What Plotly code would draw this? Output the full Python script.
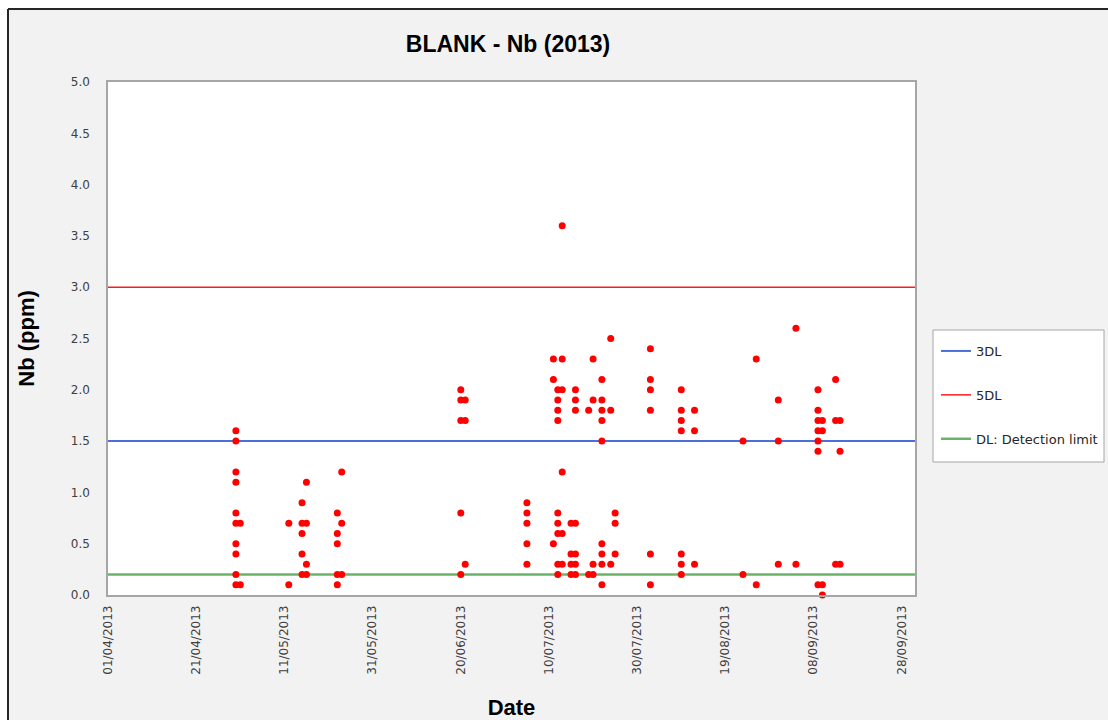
import pandas as pd
import plotly.graph_objects as go

# Nb measured in blanks, grouped by sampling day (ppm)
sample_days = [
    "2013-04-30", "2013-05-01", "2013-05-12", "2013-05-15", "2013-05-16",
    "2013-05-23", "2013-05-24", "2013-06-20", "2013-06-21", "2013-07-05",
    "2013-07-11", "2013-07-12", "2013-07-13", "2013-07-15", "2013-07-16",
    "2013-07-19", "2013-07-20", "2013-07-22", "2013-07-24", "2013-07-25",
    "2013-08-02", "2013-08-09", "2013-08-12", "2013-08-23", "2013-08-26",
    "2013-08-31", "2013-09-04", "2013-09-09", "2013-09-10", "2013-09-13",
    "2013-09-14",
]
nb_by_day = [
    [1.6, 1.5, 1.2, 1.1, 0.8, 0.7, 0.5, 0.4, 0.2, 0.1],
    [0.7, 0.1],
    [0.7, 0.1],
    [0.9, 0.7, 0.6, 0.4, 0.2],
    [1.1, 0.7, 0.3, 0.2],
    [0.8, 0.6, 0.5, 0.2, 0.1],
    [1.2, 0.7, 0.2],
    [2.0, 1.9, 1.7, 0.8, 0.2],
    [1.9, 1.7, 0.3],
    [0.9, 0.8, 0.7, 0.5, 0.3],
    [2.3, 2.1, 0.5],
    [2.0, 1.9, 1.8, 1.7, 0.8, 0.7, 0.6, 0.3, 0.2],
    [3.6, 2.3, 2.0, 1.2, 0.6, 0.3],
    [0.7, 0.4, 0.3, 0.2],
    [2.0, 1.9, 1.8, 0.7, 0.4, 0.3, 0.2],
    [1.8, 0.2],
    [2.3, 1.9, 0.3, 0.2],
    [2.1, 1.9, 1.8, 1.7, 1.5, 0.5, 0.4, 0.3, 0.1],
    [2.5, 1.8, 0.3],
    [0.8, 0.7, 0.4],
    [2.4, 2.1, 2.0, 1.8, 0.4, 0.1],
    [2.0, 1.8, 1.7, 1.6, 0.4, 0.3, 0.2],
    [1.8, 1.6, 0.3],
    [1.5, 0.2],
    [2.3, 0.1],
    [1.9, 1.5, 0.3],
    [2.6, 0.3],
    [2.0, 1.8, 1.7, 1.6, 1.5, 1.4, 0.1],
    [1.7, 1.6, 0.1, 0.0],
    [2.1, 1.7, 0.3],
    [1.7, 1.4, 0.3],
]

# Control limits (ppm)
limit_names = ["3DL", "5DL", "DL: Detection limit"]
limit_values = [1.5, 3.0, 0.2]
limit_colors = ["#4a6fd8", "#ff1a1a", "#6ab46a"]
limit_widths = [2, 1.5, 2.5]

# Date axis
x_start, x_end = "2013-04-01", "2013-10-01"
tick_dates = pd.date_range("2013-04-01", "2013-09-28", freq="20D")
tick_labels = [d.strftime("%d/%m/%Y") for d in tick_dates]

y_ticks = [0.0, 0.5, 1.0, 1.5, 2.0, 2.5, 3.0, 3.5, 4.0, 4.5, 5.0]

# expand grouped samples into point lists
pt_x, pt_y = [], []
for day, vals in zip(sample_days, nb_by_day):
    for v in vals:
        pt_x.append(day)
        pt_y.append(v)

W, H = 1108, 720
L, R, T, B = 108, 915, 82, 595


def px_x(p):
    return (p - L) / (R - L)


def px_y(p):
    return (B - p) / (B - T)


fig = go.Figure()

for i, (name, val, col, lw) in enumerate(zip(limit_names, limit_values, limit_colors, limit_widths)):
    fig.add_trace(go.Scatter(
        x=[x_start, x_end], y=[val, val], mode="lines", name=name,
        line=dict(color=col, width=lw), legendgroup=f"g{i}",
        hoverinfo="skip",
    ))

fig.add_trace(go.Scatter(
    x=pt_x, y=pt_y, mode="markers", name="Nb",
    marker=dict(color="#ff0000", size=7, line=dict(width=0)),
    showlegend=False, cliponaxis=False,
))

tick_font = dict(family="DejaVu Sans", size=12, color="#404040")

fig.update_xaxes(
    type="date", range=[x_start, x_end],
    tickvals=list(tick_dates), ticktext=tick_labels, tickangle=-90,
    tickfont=tick_font, showgrid=False, zeroline=False,
    ticks="outside", ticklen=4, tickcolor="rgba(0,0,0,0)",
    showline=True, mirror=True, linecolor="#a6a6a6", linewidth=1.5,
    automargin=False,
    title=dict(text="<b>Date</b>", standoff=26,
               font=dict(family="Liberation Sans", size=22, color="#000000")),
)
fig.update_yaxes(
    range=[0, 5], tickvals=y_ticks, tickformat=".1f",
    tickfont=tick_font, showgrid=False, zeroline=False,
    ticks="outside", ticklen=14, tickcolor="rgba(0,0,0,0)",
    showline=True, mirror=True, linecolor="#a6a6a6", linewidth=1.5,
    automargin=False,
    title=dict(text="<b>Nb (ppm)</b>", standoff=30,
               font=dict(family="Liberation Sans", size=22, color="#000000")),
)

shapes = [
    # white surround outside the chart frame
    dict(type="rect", xref="paper", yref="paper",
         x0=px_x(0), x1=px_x(W), y0=px_y(0), y1=px_y(9),
         fillcolor="white", line=dict(width=0), layer="above"),
    dict(type="rect", xref="paper", yref="paper",
         x0=px_x(0), x1=px_x(8), y0=px_y(0), y1=px_y(H),
         fillcolor="white", line=dict(width=0), layer="above"),
    # chart frame
    dict(type="line", xref="paper", yref="paper",
         x0=px_x(8), x1=px_x(W + 5), y0=px_y(9), y1=px_y(9),
         line=dict(color="#262626", width=2), layer="above"),
    dict(type="line", xref="paper", yref="paper",
         x0=px_x(8), x1=px_x(8), y0=px_y(9), y1=px_y(H + 5),
         line=dict(color="#262626", width=2), layer="above"),
    # legend box
    dict(type="rect", xref="paper", yref="paper",
         x0=px_x(933), x1=px_x(1104), y0=px_y(330), y1=px_y(462),
         fillcolor="white", line=dict(color="#a6a6a6", width=1), layer="above"),
]

fig.update_layout(
    width=W, height=H,
    margin=dict(l=L, r=W - R, t=T, b=H - B, autoexpand=False),
    paper_bgcolor="#f2f2f2", plot_bgcolor="white",
    shapes=shapes,
    title=dict(text="<b>BLANK - Nb (2013)</b>", x=px_x(508), xanchor="center",
               y=1 - 44 / H, yanchor="middle", xref="paper",
               font=dict(family="Liberation Sans", size=23, color="#000000")),
    legend=dict(x=px_x(936), y=px_y(336), xanchor="left", yanchor="top",
                bgcolor="rgba(0,0,0,0)", borderwidth=0,
                font=dict(family="DejaVu Sans", size=13, color="#262626"),
                itemwidth=30, tracegroupgap=24),
    showlegend=True,
    hovermode=False,
)

fig.write_html("out.html")
